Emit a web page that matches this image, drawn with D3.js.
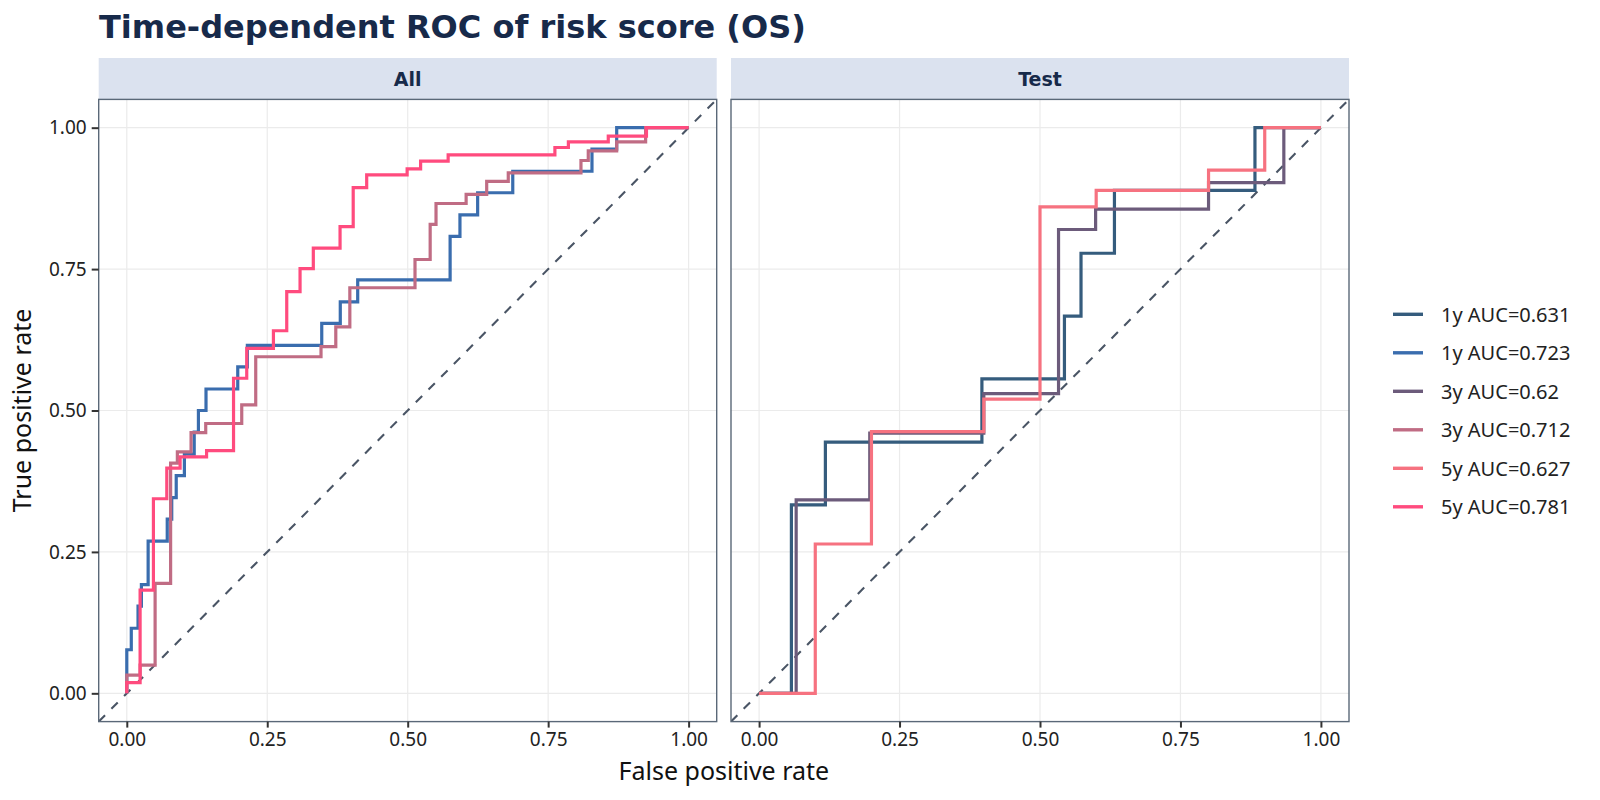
<!DOCTYPE html>
<html>
<head>
<meta charset="utf-8">
<script src="https://d3js.org/d3.v7.min.js"></script>
<style>
  body { margin: 0; background: #fff; }
  svg { display: block; }
</style>
</head>
<body>
<svg width="1600" height="800"></svg>
<script>
// ---- data (FPR / TPR at each step corner) ----
var panels = ["All", "Test"];
var ticks = [0, 0.25, 0.5, 0.75, 1];

var legendLabels = ["1y AUC=0.631", "1y AUC=0.723", "3y AUC=0.62", "3y AUC=0.712", "5y AUC=0.627", "5y AUC=0.781"];
var legendColors = ["#355C7D", "#3A6DAE", "#6C5B7B", "#C06C84", "#F67280", "#FF4B7E"];

// All
var all1yFpr = [0, 0, 0.008, 0.02, 0.026, 0.038, 0.072, 0.08, 0.088, 0.1025, 0.12, 0.1275, 0.141, 0.1975, 0.2146, 0.347, 0.38, 0.411, 0.5755, 0.593, 0.6245, 0.687, 0.828, 0.872, 1];
var all1yTpr = [0, 0.077, 0.115, 0.154, 0.192, 0.269, 0.308, 0.346, 0.385, 0.423, 0.462, 0.5, 0.538, 0.577, 0.615, 0.654, 0.692, 0.731, 0.808, 0.846, 0.885, 0.923, 0.962, 1, 1];
var all3yFpr = [0, 0, 0.0237, 0.0504, 0.078, 0.09, 0.1144, 0.1405, 0.2046, 0.2295, 0.3457, 0.372, 0.397, 0.513, 0.54, 0.5504, 0.604, 0.6406, 0.679, 0.8084, 0.8214, 0.872, 0.9235, 1];
var all3yTpr = [0, 0.032, 0.05, 0.1945, 0.407, 0.427, 0.461, 0.477, 0.51, 0.595, 0.613, 0.648, 0.717, 0.767, 0.829, 0.866, 0.882, 0.905, 0.92, 0.942, 0.959, 0.975, 1, 1];
var all5yFpr = [0, 0, 0.0237, 0.0474, 0.0712, 0.0949, 0.142, 0.19, 0.2135, 0.261, 0.2847, 0.3084, 0.332, 0.3796, 0.403, 0.427, 0.499, 0.523, 0.572, 0.762, 0.786, 0.857, 0.925, 1];
var all5yTpr = [0, 0.019, 0.1825, 0.344, 0.398, 0.418, 0.429, 0.557, 0.61, 0.641, 0.71, 0.751, 0.787, 0.825, 0.894, 0.9164, 0.927, 0.941, 0.952, 0.965, 0.975, 0.985, 1, 1];

// Test
var test1yFpr = [0, 0.0575, 0.118, 0.3966, 0.5435, 0.573, 0.6325, 0.8826, 1];
var test1yTpr = [0, 0.333, 0.444, 0.556, 0.667, 0.778, 0.889, 1, 1];
var test3yFpr = [0, 0.066, 0.197, 0.4, 0.533, 0.599, 0.8, 0.934, 1];
var test3yTpr = [0, 0.342, 0.46, 0.53, 0.82, 0.856, 0.903, 1, 1];
var test5yFpr = [0, 0.1, 0.2, 0.4, 0.5, 0.6, 0.8, 0.9, 1];
var test5yTpr = [0, 0.264, 0.4626, 0.52, 0.86, 0.889, 0.925, 1, 1];

function zip(xs, ys) { return xs.map(function(x, i) { return {x: x, y: ys[i]}; }); }

var series = [
  {panel: "Test", key: 0, pts: zip(test1yFpr, test1yTpr)},
  {panel: "All",  key: 1, pts: zip(all1yFpr, all1yTpr)},
  {panel: "Test", key: 2, pts: zip(test3yFpr, test3yTpr)},
  {panel: "All",  key: 3, pts: zip(all3yFpr, all3yTpr)},
  {panel: "Test", key: 4, pts: zip(test5yFpr, test5yTpr)},
  {panel: "All",  key: 5, pts: zip(all5yFpr, all5yTpr)}
];

// ---- layout ----
var svg = d3.select("svg");
var navy = "#172a4a";
var panelTop = 99.4, panelBottom = 721.6;
var panelX = {All: [98.7, 716.7], Test: [731, 1349]};
var stripTop = 58;

var y = d3.scaleLinear().domain([-0.05, 1.05]).range([panelBottom, panelTop]);

svg.append("text")
  .attr("x", 99).attr("y", 38)
  .attr("font-family", "DejaVu Sans").attr("font-weight", "bold")
  .attr("font-size", 32).attr("fill", navy)
  .text("Time-dependent ROC of risk score (OS)");

var defs = svg.append("defs");

panels.forEach(function(p, pi) {
  var x = d3.scaleLinear().domain([-0.05, 1.05]).range(panelX[p]);
  var g = svg.append("g");
  var w = panelX[p][1] - panelX[p][0];

  defs.append("clipPath").attr("id", "clip" + pi)
    .append("rect").attr("x", panelX[p][0]).attr("y", panelTop)
    .attr("width", w).attr("height", panelBottom - panelTop);

  // strip
  g.append("rect").attr("x", panelX[p][0]).attr("y", stripTop)
    .attr("width", w).attr("height", panelTop - stripTop)
    .attr("fill", "#dbe2ef");
  g.append("text")
    .attr("x", (panelX[p][0] + panelX[p][1]) / 2).attr("y", (stripTop + panelTop) / 2)
    .attr("text-anchor", "middle").attr("dominant-baseline", "central")
    .attr("font-family", "DejaVu Sans").attr("font-weight", "bold")
    .attr("font-size", 19).attr("fill", navy)
    .text(p);

  // grid
  g.selectAll(".gx").data(ticks).enter().append("line")
    .attr("x1", x).attr("x2", x).attr("y1", panelTop).attr("y2", panelBottom)
    .attr("stroke", "#ebebeb").attr("stroke-width", 1.2);
  g.selectAll(".gy").data(ticks).enter().append("line")
    .attr("y1", y).attr("y2", y).attr("x1", panelX[p][0]).attr("x2", panelX[p][1])
    .attr("stroke", "#ebebeb").attr("stroke-width", 1.2);

  var plot = g.append("g").attr("clip-path", "url(#clip" + pi + ")");

  // diagonal reference
  plot.append("line")
    .attr("x1", x(-0.05)).attr("y1", y(-0.05)).attr("x2", x(1.05)).attr("y2", y(1.05))
    .attr("stroke", "#4a5565").attr("stroke-width", 2.1)
    .attr("stroke-dasharray", "9,9");

  var line = d3.line().x(function(d) { return x(d.x); }).y(function(d) { return y(d.y); })
    .curve(d3.curveStepAfter);

  series.filter(function(s) { return s.panel === p; }).forEach(function(s) {
    plot.append("path").datum(s.pts)
      .attr("d", line).attr("fill", "none")
      .attr("stroke", legendColors[s.key]).attr("stroke-width", 3.2)
      .attr("stroke-linejoin", "miter");
  });

  // border
  g.append("rect").attr("x", panelX[p][0]).attr("y", panelTop)
    .attr("width", w).attr("height", panelBottom - panelTop)
    .attr("fill", "none").attr("stroke", "#5a6878").attr("stroke-width", 1.4);

  // x axis
  var xa = g.append("g").attr("transform", "translate(0," + panelBottom + ")")
    .call(d3.axisBottom(x).tickValues(ticks).tickSize(6).tickPadding(5).tickFormat(d3.format(".2f")));
  xa.select(".domain").remove();
  xa.selectAll("line").attr("stroke", "#333").attr("stroke-width", 2);
  xa.selectAll("text").attr("font-family", "Noto Sans").attr("font-size", 19).attr("fill", "#222");

  if (pi === 0) {
    var ya = g.append("g").attr("transform", "translate(" + panelX[p][0] + ",0)")
      .call(d3.axisLeft(y).tickValues(ticks).tickSize(7).tickPadding(5).tickFormat(d3.format(".2f")));
    ya.select(".domain").remove();
    ya.selectAll("line").attr("stroke", "#333").attr("stroke-width", 2);
    ya.selectAll("text").attr("font-family", "Noto Sans").attr("font-size", 19).attr("fill", "#222");
  }
});

// axis titles
svg.append("text")
  .attr("x", (panelX.All[0] + panelX.Test[1]) / 2).attr("y", 780)
  .attr("text-anchor", "middle")
  .attr("font-family", "Noto Sans").attr("font-size", 25).attr("fill", "#111")
  .text("False positive rate");
svg.append("text")
  .attr("transform", "translate(31," + (panelTop + panelBottom) / 2 + ") rotate(-90)")
  .attr("text-anchor", "middle")
  .attr("font-family", "Noto Sans").attr("font-size", 25).attr("fill", "#111")
  .text("True positive rate");

// legend
var leg = svg.append("g").selectAll("g").data(legendLabels).enter().append("g")
  .attr("transform", function(d, i) { return "translate(1393," + (314.3 + i * 38.5) + ")"; });
leg.append("line").attr("x1", 0).attr("x2", 30)
  .attr("stroke", function(d, i) { return legendColors[i]; }).attr("stroke-width", 3.4);
leg.append("text").attr("x", 48).attr("dominant-baseline", "central")
  .attr("font-family", "Noto Sans").attr("font-size", 20).attr("fill", "#222")
  .text(function(d) { return d; });
</script>
</body>
</html>
